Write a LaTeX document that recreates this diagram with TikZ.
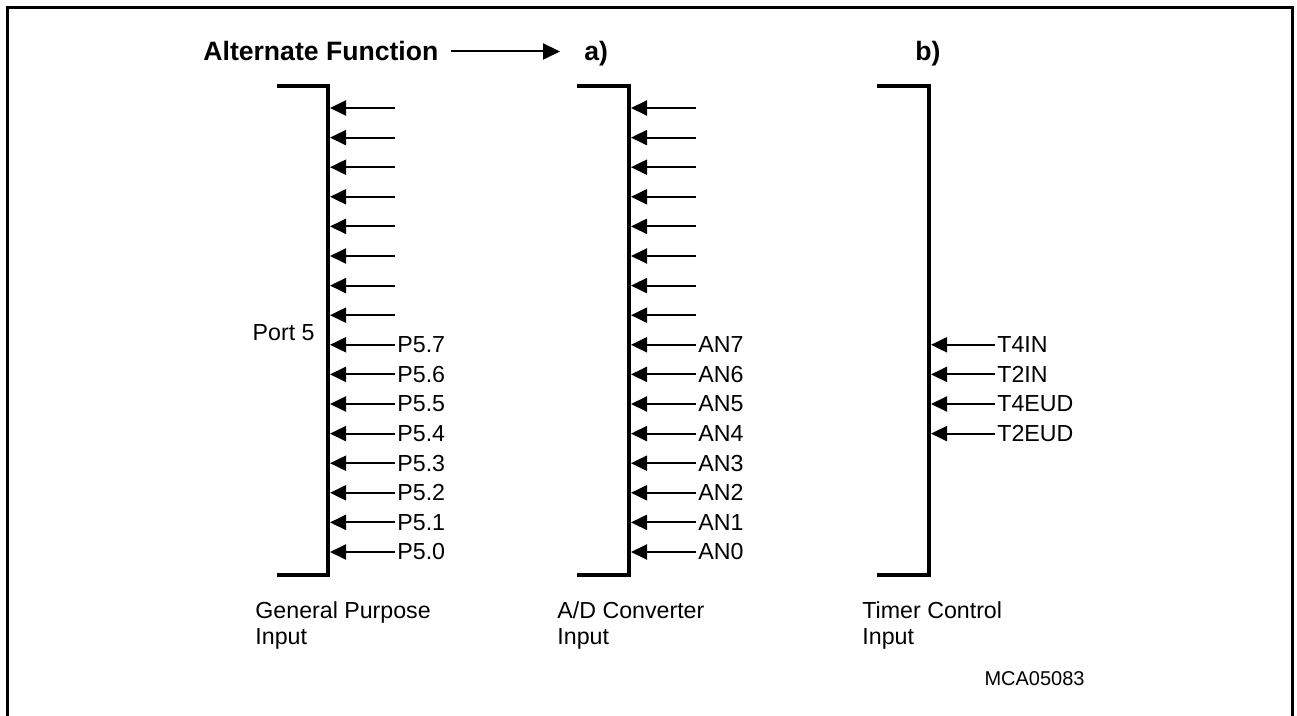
\documentclass[tikz,border=0pt]{standalone}
\usepackage{fontspec}
\setmainfont{Liberation Sans}
\usetikzlibrary{arrows.meta,positioning}

\begin{document}
\begin{tikzpicture}[x=0.5pt, y=-0.5pt,
  frame/.style={line width=1.5pt},
  bracket/.style={line width=2pt},
  pin/.style={{Triangle[length=8pt, width=7.5pt]}-, line width=1pt},
  titlearr/.style={-{Triangle[length=8.5pt, width=8pt]}, line width=1pt},
  heading/.style={anchor=base west, inner sep=0pt, font=\fontsize{13.3}{15}\selectfont\bfseries},
  pinlbl/.style={anchor=west, inner sep=0pt, font=\fontsize{11.6}{14}\selectfont},
  caption/.style={anchor=north west, inner sep=0pt, align=left, font=\fontsize{11.6}{13}\selectfont}
]
  \useasboundingbox (0,0) rectangle (1297,716);
  \draw[frame] (7,716) -- (7,8) -- (1292,8) -- (1292,716);

  % headings
  \node[heading] (alt) at (203,61) {Alternate Function};
  \node[heading] (hda) at (584,61) {a)};
  \node[heading] (hdb) at (915,61) {b)};
  \coordinate (altTip) at (560,0);
  \draw[titlearr] ([xshift=6pt]alt.east) -- (alt.east -| altTip);

  % brackets
  \draw[bracket] (277,86) -- (328,86) -- (328,575) -- (277,575);
  \draw[bracket] (577,86) -- (629,86) -- (629,575) -- (577,575);
  \draw[bracket] (877,86) -- (929,86) -- (929,575) -- (877,575);

  % pins
  \foreach \k in {0,...,15} {
    \coordinate (gp\k) at (330,108+29.6*\k);
    \coordinate (gpt\k) at (395,108+29.6*\k);
    \coordinate (ad\k) at (631,108+29.6*\k);
    \coordinate (adt\k) at (696,108+29.6*\k);
    \draw[pin] (gp\k) -- (gpt\k);
    \draw[pin] (ad\k) -- (adt\k);
  }
  \foreach \k/\n in {8/7,9/6,10/5,11/4,12/3,13/2,14/1,15/0} {
    \node[pinlbl, right=1pt of gpt\k] (gpl\k) {P5.\n};
    \node[pinlbl, right=1pt of adt\k] (adl\k) {AN\n};
  }
  \foreach \k/\t in {8/T4IN,9/T2IN,10/T4EUD,11/T2EUD} {
    \coordinate (tc\k) at (931,108+29.6*\k);
    \coordinate (tct\k) at (995,108+29.6*\k);
    \draw[pin] (tc\k) -- (tct\k);
    \node[pinlbl, right=1pt of tct\k] (tcl\k) {\t};
  }

  \node[pinlbl, anchor=base east] (port) at (315,341) {Port 5};

  % captions
  \node[caption] (capgp) at (255,601) {General Purpose\\Input};
  \node[caption] (capad) at (557,601) {A/D Converter\\Input};
  \node[caption] (captc) at (862,601) {Timer Control\\Input};
  \node[anchor=base east, inner sep=0pt, font=\fontsize{10}{12}\selectfont] (fig) at (1085,685) {MCA05083};
\end{tikzpicture}
\end{document}
